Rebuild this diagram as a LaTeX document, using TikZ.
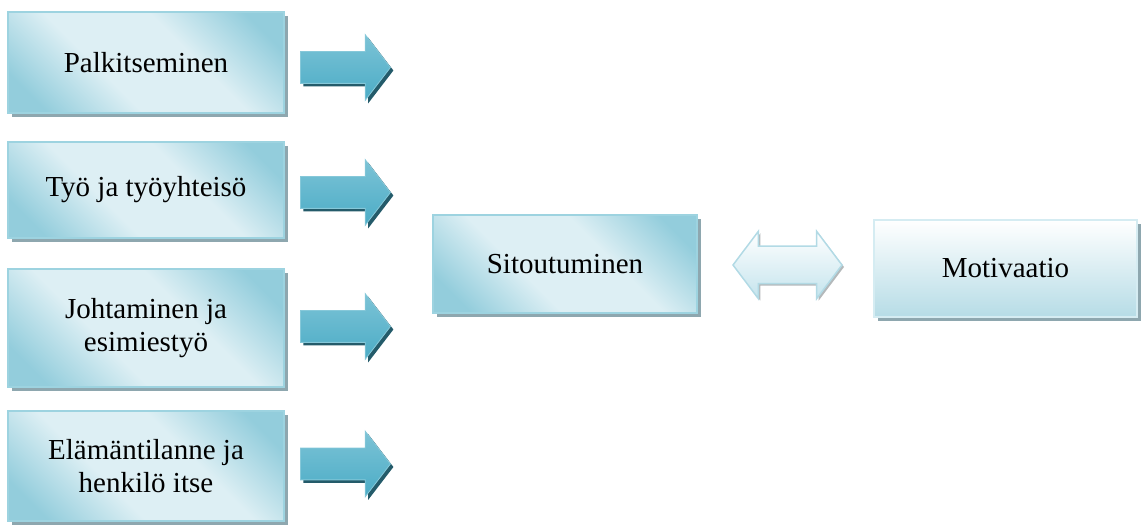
\documentclass[tikz,border=0pt]{standalone}
\usepackage{fontspec}
\setmainfont{Liberation Serif}
\usetikzlibrary{shapes.arrows,shadows}
\definecolor{bdark}{HTML}{93CDDC}
\definecolor{blight}{HTML}{DDEFF4}
\definecolor{bborder}{HTML}{9DD3E0}
\definecolor{bshadow}{HTML}{8EA7AF}
\definecolor{alight}{HTML}{7CC3D6}
\definecolor{amid}{HTML}{4BACC6}
\definecolor{aborder}{HTML}{86C8D9}
\definecolor{ashadow}{HTML}{245B6A}
\definecolor{mbottom}{HTML}{B6DCE6}
\definecolor{mborder}{HTML}{D5ECF2}
\definecolor{dbottom}{HTML}{C4E4ED}
\definecolor{dborder}{HTML}{B2DAE5}
\definecolor{dshadow}{HTML}{B4B9BB}
\pgfdeclarehorizontalshading{boxsh}{100bp}{color(0bp)=(bdark); color(22bp)=(bdark); color(40bp)=(blight); color(60bp)=(blight); color(78bp)=(bdark); color(100bp)=(bdark)}
\begin{document}
\begin{tikzpicture}[x=1pt,y=-1pt,
  txt/.style={font=\fontsize{29}{33}\selectfont, align=center, inner sep=0pt},
  factor/.style={txt, rectangle, minimum width=276pt, shading=boxsh, shading angle=45,
    draw=bborder, line width=1.5pt,
    drop shadow={shadow xshift=4pt, shadow yshift=-4pt, fill=bshadow, opacity=1}},
  motbox/.style={txt, rectangle, top color=white, bottom color=mbottom,
    draw=mborder, line width=2pt,
    drop shadow={shadow xshift=4pt, shadow yshift=-4pt, fill=bshadow, opacity=1}},
  blockarrow/.style={single arrow, anchor=tail, minimum height=90pt,
    single arrow head extend=17pt, single arrow tip angle=105,
    inner xsep=0pt, inner ysep=15.5pt, text height=0pt, text depth=0pt, text width=0pt,
    top color=alight, bottom color=amid, draw=aborder, line width=0.8pt,
    drop shadow={shadow xshift=3pt, shadow yshift=-3pt, fill=ashadow, opacity=1}},
  dblarrow/.style={double arrow, minimum height=109pt,
    double arrow head extend=15pt, double arrow tip angle=106,
    inner xsep=0pt, inner ysep=18pt, text height=0pt, text depth=0pt, text width=0pt,
    top color=white, bottom color=dbottom, draw=dborder, line width=1.5pt,
    drop shadow={shadow xshift=2pt, shadow yshift=-2pt, fill=dshadow, opacity=1}}
]
\useasboundingbox (0,0) rectangle (1144,526);
\node[factor, minimum height=101pt] (palk) at (146,62.5) {Palkitseminen};
\node[factor, minimum height=96pt] (tyo) at (146,190) {Työ ja työyhteisö};
\node[factor, minimum height=118pt] (joht) at (146,328) {Johtaminen ja\\esimiestyö};
\node[factor, minimum height=110pt] (elam) at (146,466) {Elämäntilanne ja\\henkilö itse};
\node[blockarrow] (a1) at (300,67.5) {};
\node[blockarrow] (a2) at (300,192.5) {};
\node[blockarrow] (a3) at (300,326.5) {};
\node[blockarrow] (a4) at (300,464) {};
\node[factor, minimum width=264pt, minimum height=98pt] (sit) at (565,264) {Sitoutuminen};
\node[dblarrow] (da) at (787.5,265) {};
\node[motbox, minimum width=263pt, minimum height=97pt] (mot) at (1005.5,268.5) {Motivaatio};
\end{tikzpicture}
\end{document}
